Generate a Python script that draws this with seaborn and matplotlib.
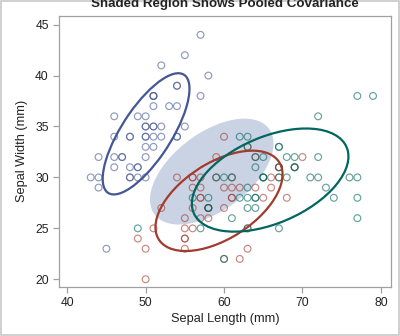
import numpy as np
import pandas as pd
import matplotlib
matplotlib.use("Agg")
import matplotlib.pyplot as plt
from matplotlib.patches import Ellipse, Rectangle
import seaborn as sns

# Fisher iris data, sepal length / width in mm
setosa_len = [51,49,47,46,50,54,46,50,44,49,54,48,48,43,58,57,54,51,57,51,54,51,46,51,48,
              50,50,52,52,47,48,54,52,55,49,50,55,49,44,51,50,45,44,50,51,48,51,46,53,50]
setosa_wid = [35,30,32,31,36,39,34,34,29,31,37,34,30,30,40,44,39,35,38,38,34,37,36,33,34,
              30,34,35,34,32,31,34,41,42,31,32,35,36,30,34,35,23,32,35,38,30,38,32,37,33]
versicolor_len = [70,64,69,55,65,57,63,49,66,52,50,59,60,61,56,67,56,58,62,56,59,61,63,61,64,
                  66,68,67,60,57,55,55,58,60,54,60,67,63,56,55,55,61,58,50,56,57,57,62,51,57]
versicolor_wid = [32,32,31,23,28,28,33,24,29,27,20,30,22,29,29,31,30,27,22,25,32,28,25,28,29,
                  30,28,30,29,26,24,24,27,27,30,34,31,23,30,25,26,30,26,23,27,30,29,29,25,28]
virginica_len = [63,58,71,63,65,76,49,73,67,72,65,64,68,57,58,64,65,77,77,60,69,56,77,63,67,
                 72,62,61,64,72,74,79,64,63,61,77,63,64,60,69,67,69,58,68,67,67,63,65,62,59]
virginica_wid = [33,27,30,29,30,30,25,29,25,36,32,27,30,25,28,32,30,38,26,22,32,28,28,27,33,
                 32,28,30,28,30,28,38,28,28,26,30,34,31,30,31,31,31,27,32,33,30,25,30,34,30]

species = ["Setosa", "Versicolor", "Virginica"]
x_ticks = [40, 50, 60, 70, 80]
y_ticks = [20, 25, 30, 35, 40, 45]

frames = []
for name, xl, yl in zip(species, [setosa_len, versicolor_len, virginica_len],
                        [setosa_wid, versicolor_wid, virginica_wid]):
    frames.append(pd.DataFrame({"SepalLength": xl, "SepalWidth": yl, "Species": name}))
df = pd.concat(frames, ignore_index=True)

colors = {"Setosa": "#445694", "Versicolor": "#A23A2E", "Virginica": "#01665E"}
K_GROUP = 1.57
K_POOL = 1.53

fig = plt.figure(figsize=(4.0, 3.36), dpi=100)
plt.rcParams["font.family"] = ["Liberation Sans", "DejaVu Sans"]
ax = fig.add_axes([0.148, 0.1467, 0.8285, 0.8057])


def ellipse_patch(xv, yv, cov, k, **kw):
    vals, vecs = np.linalg.eigh(cov)
    order = vals.argsort()[::-1]
    vals, vecs = vals[order], vecs[:, order]
    ang = np.degrees(np.arctan2(vecs[1, 0], vecs[0, 0]))
    return Ellipse((xv, yv), 2 * k * np.sqrt(vals[0]), 2 * k * np.sqrt(vals[1]),
                   angle=ang, **kw)

# pooled within-group covariance centred at the grand mean
pooled = np.zeros((2, 2))
for name in species:
    sub = df[df.Species == name]
    pooled += (len(sub) - 1) * np.cov(sub.SepalLength, sub.SepalWidth)
pooled /= (len(df) - len(species))
ax.add_patch(ellipse_patch(df.SepalLength.mean(), df.SepalWidth.mean(), pooled, K_POOL,
                           facecolor="#C9D3E4", edgecolor="none", zorder=1))

for name in species:
    sub = df[df.Species == name]
    sns.scatterplot(data=sub, x="SepalLength", y="SepalWidth", ax=ax, marker="o", s=24,
                    facecolor="none", edgecolor=colors[name], linewidth=0.85, alpha=0.6,
                    zorder=2, legend=False)

for name in species:
    sub = df[df.Species == name]
    cov = np.cov(sub.SepalLength, sub.SepalWidth)
    ax.add_patch(ellipse_patch(sub.SepalLength.mean(), sub.SepalWidth.mean(), cov, K_GROUP,
                               facecolor="none", edgecolor=colors[name], linewidth=1.6,
                               zorder=3))

ax.set_xlim(38.98, 81.24)
ax.set_ylim(19.27, 45.85)
ax.set_xticks(x_ticks)
ax.set_yticks(y_ticks)
for sp in ax.spines.values():
    sp.set_color("#A0A0A0")
    sp.set_linewidth(0.9)
ax.tick_params(colors="#A0A0A0", labelcolor="#222222", labelsize=8.7, length=4, width=0.9)
ax.set_xlabel("Sepal Length (mm)", fontsize=9.2, color="#222222", labelpad=3)
ax.set_ylabel("Sepal Width (mm)", fontsize=9.2, color="#222222", labelpad=5)

fig.text(0.5625, 1 - 6.5 / 336, "Shaded Region Shows Pooled Covariance", ha="center",
         va="baseline", fontsize=9.6, fontweight="bold", color="#222222")
fig.patches.append(Rectangle((0.0015, 0.0015), 0.997, 0.997, transform=fig.transFigure,
                             fill=False, edgecolor="#C8C8C8", linewidth=1.2))

fig.savefig("out.png", dpi=100)
